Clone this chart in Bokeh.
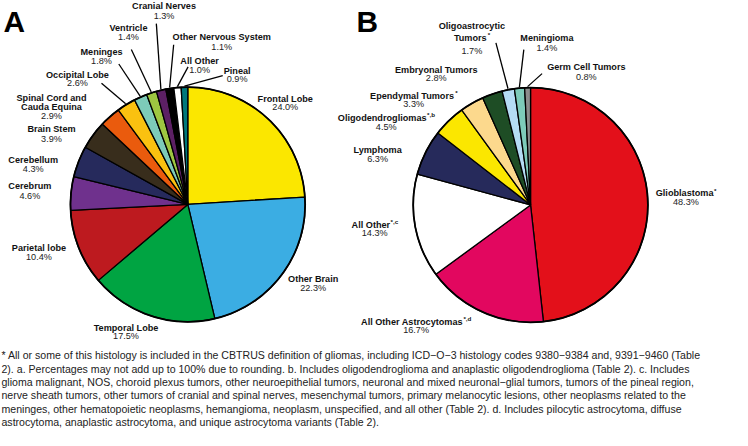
import math
from bokeh.plotting import figure
from bokeh.models import ColumnDataSource, Range1d
from bokeh.core.properties import value
from bokeh.embed import file_html
from bokeh.resources import INLINE

# ---------------- data ----------------
a_labels = ["Frontal Lobe", "Other Brain", "Temporal Lobe", "Parietal lobe", "Cerebrum",
            "Cerebellum", "Brain Stem", "Spinal Cord and\nCauda Equina", "Occipital Lobe",
            "Meninges", "Ventricle", "Cranial Nerves", "Other Nervous System", "All Other", "Pineal"]
a_values = [24.0, 22.3, 17.5, 10.4, 4.6, 4.3, 3.9, 2.9, 2.6, 1.8, 1.4, 1.3, 1.1, 1.0, 0.9]
a_colors = ["#FBE700", "#3BADE3", "#00A442", "#BD1A1F", "#6F318D", "#262A5C", "#382D1C",
            "#EA5B0D", "#FAC110", "#7DCBB9", "#9EC641", "#5C2064", "#000000", "#FFFFFF", "#00787B"]

b_labels = ["Glioblastoma*", "All Other Astrocytomas*,d", "All Other*,c", "Lymphoma",
            "Oligodendrogliomas*,b", "Ependymal Tumors*", "Embryonal Tumors",
            "Oligoastrocytic\nTumors*", "Meningioma", "Germ Cell Tumors"]
b_values = [48.3, 16.7, 14.3, 6.3, 4.5, 3.3, 2.8, 1.7, 1.4, 0.8]
b_colors = ["#E3101A", "#E2075F", "#FFFFFF", "#262A5B", "#FBE700", "#FCD98D", "#1E4D25",
            "#B5DCF4", "#7DCBB9", "#8C8C8C"]

footnote = [
    "* All or some of this histology is included in the CBTRUS definition of gliomas, including ICD\u2212O\u22123 histology codes 9380\u22129384 and, 9391\u22129460 (Table",
    "2). a. Percentages may not add up to 100% due to rounding. b. Includes oligodendroglioma and anaplastic oligodendroglioma (Table 2). c. Includes",
    "glioma malignant, NOS, choroid plexus tumors, other neuroepithelial tumors, neuronal and mixed neuronal\u2212glial tumors, tumors of the pineal region,",
    "nerve sheath tumors, other tumors of cranial and spinal nerves, mesenchymal tumors, primary melanocytic lesions, other neoplasms related to the",
    "meninges, other hematopoietic neoplasms, hemangioma, neoplasm, unspecified, and all other (Table 2). d. Includes pilocytic astrocytoma, diffuse",
    "astrocytoma, anaplastic astrocytoma, and unique astrocytoma variants (Table 2).",
]

# ---------------- layout (reference pixel coordinates) ----------------
# label: (center x, [y of each name line], y of percent, leader anchor or None)
a_layout = [
    (293, [101], 110, None),
    (322, [288], 298, None),
    (127.5, [339], 348, None),
    (37, [256], 266, None),
    (27.5, [192], 202, None),
    (31, [165], 174, None),
    (50, [133], 143, None),
    (50, [100, 109.5], 119, None),
    (77, [76], 85, (102, 85)),
    (102, [53], 62, (120, 65)),
    (130, [27.5], 37, (133, 50)),
    (167, [5], 15, (159, 23)),
    (227, [37], 47, (177, 45)),
    (204, [62], 71, (192, 68)),
    (243, [72], 81, (228, 77)),
]
b_layout = [
    (709.5, [199], 208, None),
    (429, [333], 342, None),
    (386, [232], 241, None),
    (389, [154], 164, None),
    (398, [121], 131, None),
    (426.5, [98], 107, None),
    (450, [71], 80, None),
    (487, [26, 37.5], 51, (512, 43)),
    (565, [38], 48, (541, 50)),
    (606, [68], 79, (560, 75)),
]
A_CENTER = (191.7, 211)
B_CENTER = (548, 211.5)
R = 122

FONT = "Liberation Sans"
NAME_SIZE = 9.5
SUP_SIZE = 6.5
FOOT_SIZE = 11.0
FOOT_Y0 = 368
FOOT_DY = 13.8

# Arial bold advance widths (per 1000 em)
BW = {' ': 278, '*': 389, ',': 278, '.': 278, 'A': 722, 'E': 667, 'G': 778, 'L': 611, 'M': 833,
      'O': 778, 'T': 611, 'a': 556, 'b': 611, 'c': 556, 'd': 611, 'e': 556, 'g': 611, 'h': 611,
      'i': 278, 'l': 278, 'm': 889, 'n': 611, 'o': 611, 'p': 611, 'r': 389, 's': 556, 't': 333,
      'u': 611, 'y': 556, 'f': 333, 'v': 556}


def tw(s, size):
    return sum(BW.get(c, 580) for c in s) * size / 1000.0


# ---------------- figure ----------------
W, H = 732, 430
K = H / 447.0   # screen px per reference px
p = figure(width=W, height=H, x_range=Range1d(-3, -3 + W / K), y_range=Range1d(-446, 1),
           output_backend="svg", toolbar_location=None, min_border=0)
p.axis.visible = False
p.grid.visible = False
p.outline_line_color = None
p.background_fill_color = "white"
p.border_fill_color = "white"


def fs(size):
    return f"{size * K:.2f}px"


def txt(x, y, s, size, bold=False, color="#000000", align="center", baseline="middle"):
    p.text(x=[x], y=[-y], text=[s], text_font=value(FONT), text_font_size=fs(size),
           text_font_style="bold" if bold else "normal", text_color=color,
           text_align=align, text_baseline=baseline)


def name_line(xc, y, s):
    if "*" in s:
        base, sup = s.split("*", 1)
        sup = "*" + sup
        wb = tw(base, NAME_SIZE)
        ws = tw(sup, SUP_SIZE)
        x0 = xc - (wb + ws) / 2
        txt(x0, y, base, NAME_SIZE, True, "#111111", "left")
        txt(x0 + wb + 0.3, y - 3, sup, SUP_SIZE, True, "#111111", "left")
    else:
        txt(xc, y, s, NAME_SIZE, True, "#111111")


def pie(center, labels, values, colors, layout):
    cx, cy = center
    total = sum(values)
    starts, ends, mids = [], [], []
    cum = 0.0
    for v in values:
        a0 = math.pi / 2 - 2 * math.pi * (cum + v) / total
        a1 = math.pi / 2 - 2 * math.pi * cum / total
        starts.append(a0)
        ends.append(a1)
        mids.append((a0 + a1) / 2)
        cum += v
    n = len(values)
    src = ColumnDataSource(dict(x=[cx] * n, y=[-cy] * n, start=starts, end=ends, color=colors))
    p.wedge(x="x", y="y", radius=R, start_angle="start", end_angle="end",
            fill_color="color", line_color="black", line_width=1.3, source=src)
    p.circle(x=[cx], y=[-cy], radius=R, fill_color=None, line_color="black", line_width=1.8)
    # leaders
    x0s, y0s, x1s, y1s = [], [], [], []
    for (lx, lys, py, anchor), m in zip(layout, mids):
        if anchor is not None:
            x0s.append(anchor[0])
            y0s.append(-anchor[1])
            x1s.append(cx + (R + 1) * math.cos(m))
            y1s.append(-cy + (R + 1) * math.sin(m))
    if x0s:
        p.segment(x0=x0s, y0=y0s, x1=x1s, y1=y1s, line_color="black", line_width=1.3)
    # labels
    for lab, v, (lx, lys, py, anchor) in zip(labels, values, layout):
        for line, ly in zip(lab.split("\n"), lys):
            name_line(lx, ly, line)
        txt(lx, py, f"{v:.1f}%", NAME_SIZE, False, "#222222")


pie(A_CENTER, a_labels, a_values, a_colors, a_layout)
pie(B_CENTER, b_labels, b_values, b_colors, b_layout)

# panel letters
txt(0, 21, "A", 31, True, "#000000", "left", "middle")
txt(367, 21, "B", 31, True, "#000000", "left", "middle")

# footnote
for i, line in enumerate(footnote):
    txt(-2, FOOT_Y0 + i * FOOT_DY, line, FOOT_SIZE, False, "#222222", "left")

open("out.html", "w").write(file_html(p, INLINE))
